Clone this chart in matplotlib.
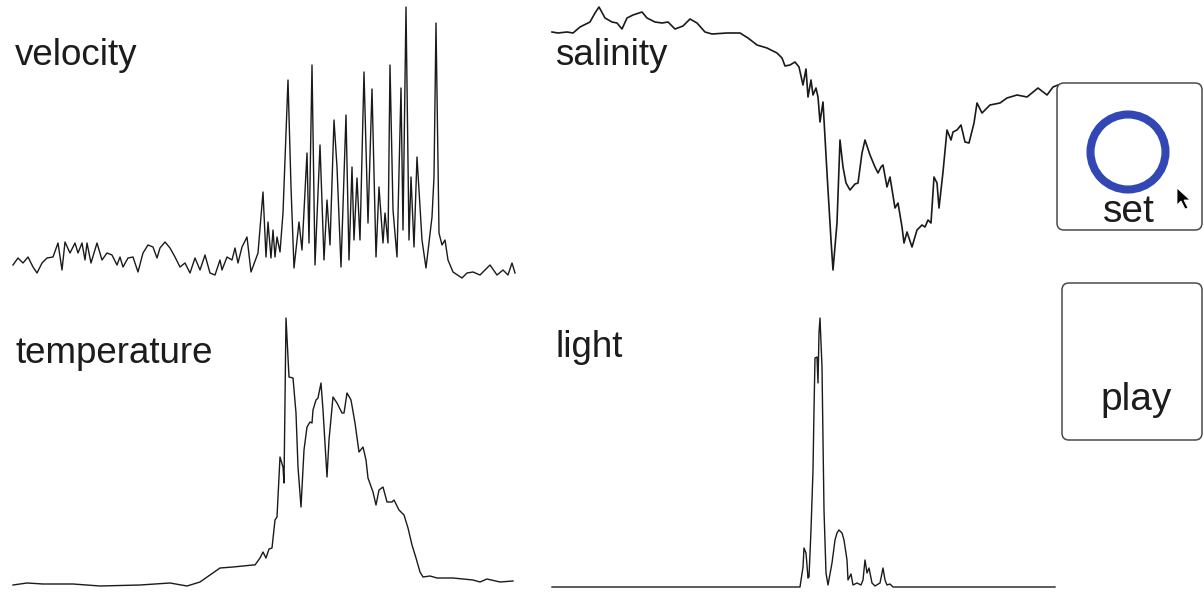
import numpy as np
import matplotlib
matplotlib.use("Agg")
import matplotlib.pyplot as plt
from matplotlib.patches import FancyBboxPatch, Circle, Polygon

plt.rcParams['font.family'] = ['Liberation Sans', 'DejaVu Sans']

# sensor traces (time in samples, value in arbitrary units)
vel_t = [0, 5, 10, 15, 20, 24, 29, 34, 40, 45, 49, 52, 57, 62, 65, 69, 72, 74, 78, 84,
         89, 94, 99, 104, 107, 110, 115, 120, 125, 130, 135, 140, 144, 147, 152, 157, 162, 167, 172, 177,
         182, 187, 192, 197, 202, 207, 209, 214, 219, 222, 225, 229, 234, 238, 245, 250, 253, 255, 258, 260,
         262, 264, 267, 270, 273, 275, 278, 281, 286, 289, 294, 296, 299, 302, 307, 311, 314, 317, 321, 324,
         328, 333, 336, 339, 341, 344, 347, 351, 355, 359, 363, 366, 370, 372, 375, 377, 380, 384, 388, 390,
         393, 396, 398, 401, 404, 409, 413, 419, 421, 423, 426, 429, 432, 435, 440, 449, 454, 460, 467, 477,
         484, 490, 495, 499, 502]
velocity = [20, 27, 22, 28, 18, 12, 22, 27, 28, 42, 15, 43, 32, 42, 32, 42, 25, 42, 22, 42,
            25, 32, 30, 20, 28, 18, 27, 28, 13, 32, 40, 38, 27, 37, 43, 37, 28, 18, 22, 12,
            27, 15, 30, 12, 10, 25, 15, 28, 25, 37, 22, 38, 48, 13, 32, 93, 28, 63, 27, 55,
            28, 48, 33, 72, 152, 205, 98, 17, 63, 35, 132, 42, 220, 20, 140, 25, 85, 40, 165, 118,
            18, 170, 25, 118, 45, 107, 45, 213, 62, 196, 28, 98, 42, 72, 42, 220, 75, 28, 197, 55,
            278, 45, 108, 38, 128, 45, 17, 68, 108, 262, 52, 40, 45, 25, 13, 7, 12, 13, 10, 20,
            10, 15, 10, 22, 12]

sal_t = [1, 7, 16, 22, 29, 39, 44, 48, 54, 61, 66, 71, 76, 82, 91, 96, 104, 111, 117, 124,
         132, 139, 146, 154, 161, 176, 189, 197, 206, 216, 226, 231, 234, 239, 244, 248, 252, 255, 257, 260,
         262, 265, 267, 269, 272, 276, 280, 282, 286, 289, 292, 295, 299, 304, 307, 311, 314, 319, 324, 327,
         330, 332, 336, 339, 344, 347, 351, 353, 356, 361, 366, 371, 374, 377, 380, 383, 386, 388, 392, 396,
         400, 402, 406, 410, 414, 418, 423, 426, 431, 439, 449, 456, 466, 476, 487, 496, 502, 507]
salinity = [258, 257, 258, 257, 263, 268, 277, 283, 272, 268, 267, 261, 272, 275, 278, 272, 268, 267, 268, 261,
            264, 271, 267, 258, 256, 257, 257, 252, 245, 242, 237, 232, 224, 225, 228, 223, 205, 221, 193, 210,
            195, 202, 193, 168, 188, 117, 50, 20, 67, 150, 123, 107, 100, 106, 107, 137, 150, 135, 123, 117,
            123, 125, 103, 113, 82, 87, 63, 47, 58, 43, 60, 65, 63, 70, 67, 113, 107, 82, 118, 160,
            150, 158, 160, 165, 148, 147, 167, 187, 177, 185, 187, 192, 195, 193, 202, 195, 203, 205]

temp_t = [0, 14, 30, 60, 87, 127, 157, 174, 187, 197, 207, 220, 240, 242, 247, 250, 253, 256, 259, 262,
          264, 267, 270, 271, 273, 276, 280, 283, 285, 288, 291, 294, 297, 299, 300, 303, 305, 308, 310, 314,
          316, 320, 324, 329, 331, 334, 338, 342, 346, 350, 353, 355, 360, 363, 366, 370, 374, 379, 381, 386,
          391, 395, 399, 403, 407, 410, 417, 424, 440, 460, 467, 474, 487, 500]
temperature = [5, 7, 6, 6, 4, 5, 7, 4, 8, 15, 22, 23, 25, 25, 32, 38, 32, 41, 42, 70,
               73, 133, 123, 107, 272, 213, 212, 177, 123, 83, 140, 163, 168, 167, 180, 190, 192, 207, 180, 113,
               150, 193, 187, 177, 177, 197, 190, 167, 138, 143, 130, 112, 98, 85, 100, 103, 88, 88, 90, 80,
               75, 62, 45, 32, 18, 13, 14, 12, 12, 10, 8, 11, 8, 9]

light_t = [0, 228, 248, 251, 252, 254, 256, 257, 259, 261, 262, 263, 265, 266, 267, 268, 270, 271, 272, 274,
           276, 280, 283, 285, 287, 290, 292, 295, 296, 299, 301, 305, 309, 311, 313, 315, 317, 320, 323, 328,
           331, 333, 335, 338, 341, 503]
light = [3, 3, 3, 23, 42, 37, 12, 13, 60, 120, 180, 232, 233, 207, 257, 272, 223, 150, 80, 17,
         5, 27, 50, 57, 60, 57, 50, 30, 10, 16, 5, 7, 5, 10, 30, 17, 22, 7, 4, 7,
         22, 10, 5, 6, 3, 3]

W, H = 1204, 593
fig = plt.figure(figsize=(W / 100, H / 100), dpi=100)
fig.patch.set_facecolor('white')


def panel(px_left, px_right, px_top, px_bottom, t, y, label, label_xy, lw=1.0):
    ax = fig.add_axes([px_left / W, 1 - px_bottom / H,
                       (px_right - px_left) / W, (px_bottom - px_top) / H])
    ax.plot(t, y, color='#1a1a1a', lw=lw, clip_on=False, solid_joinstyle='round')
    ax.set_xlim(0, px_right - px_left)
    ax.set_ylim(0, px_bottom - px_top)
    ax.axis('off')
    fig.text(label_xy[0] / W, 1 - label_xy[1] / H, label, fontsize=26.5,
             color='#1c1c1c', ha='left', va='baseline')
    return ax


panel(13, 515, 5, 285, vel_t, velocity, 'velocity', (15, 65))
panel(551, 1058, 5, 290, sal_t, salinity, 'salinity', (555, 65), lw=1.2)
panel(13, 515, 318, 590, temp_t, temperature, 'temperature', (16, 363))
panel(552, 1055, 318, 590, light_t, light, 'light', (555, 357))

# control buttons on the right
ui = fig.add_axes([0, 0, 1, 1], facecolor='none')
ui.set_xlim(0, W)
ui.set_ylim(H, 0)
ui.axis('off')

for (x0, y0, x1, y1) in [(1057, 83, 1202, 230), (1062, 283, 1202, 440)]:
    ui.add_patch(FancyBboxPatch((x0, y0), x1 - x0, y1 - y0,
                                boxstyle='round,pad=0,rounding_size=7',
                                fc='white', ec='#4a4a4a', lw=1.1))

ui.add_patch(Circle((1128, 152), 37.5, fill=False, ec='#3246b4', lw=5.8))
ui.text(1129, 222, 'set', fontsize=28, color='#1c1c1c', ha='center', va='baseline')
ui.text(1136, 410, 'play', fontsize=28, color='#1c1c1c', ha='center', va='baseline')

# mouse pointer
ui.add_patch(Polygon([(1177, 188), (1177, 205), (1181, 201), (1185, 209),
                      (1188, 208), (1184, 200), (1190, 200)],
                     closed=True, fc='black', ec='white', lw=0.6))

fig.savefig('out.png', dpi=100, facecolor='white')
